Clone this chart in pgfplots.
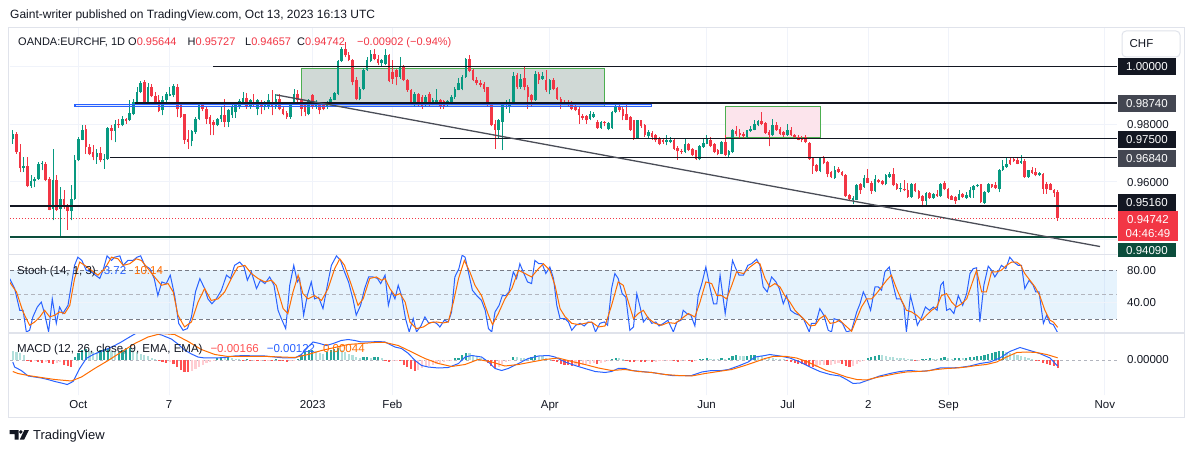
\documentclass[border=0pt]{standalone}
\usepackage{pgfplots}
\pgfplotsset{compat=1.18}
\usepackage{pgfplotstable}
\usepackage{fontspec}
\setmainfont{Liberation Sans}
\definecolor{up}{HTML}{089981}
\definecolor{dn}{HTML}{F23645}
\definecolor{hg}{HTML}{26A69A}
\definecolor{hlg}{HTML}{B2DFDB}
\definecolor{hr}{HTML}{FF5252}
\definecolor{hp}{HTML}{FFCDD2}
\definecolor{tvblue}{HTML}{2962FF}
\definecolor{tvorange}{HTML}{FF6D00}
\definecolor{gridc}{HTML}{F0F3FA}
\definecolor{sepc}{HTML}{E0E3EB}
\definecolor{txt}{HTML}{131722}
\definecolor{dkbox}{HTML}{131722}
\definecolor{gbox}{HTML}{434651}
\definecolor{dkgreen}{HTML}{0B4D3C}
\definecolor{graybox}{HTML}{D0D9D6}
\definecolor{pinkbox}{HTML}{FCE4EC}
\definecolor{grn}{HTML}{4CAF50}
\definecolor{trend}{HTML}{4A4D57}
\definecolor{dashc}{HTML}{787B86}
\definecolor{dashl}{HTML}{B2B5BE}
\definecolor{bandc}{HTML}{2196F3}

\pgfplotstableread{
x o h l c
-18 0.9749 0.9779 0.9733 0.9767
-17 0.9767 0.9773 0.9698 0.9703
-16 0.9703 0.9733 0.9634 0.9648
-15 0.9648 0.9686 0.9634 0.9655
-14 0.9654 0.9686 0.9582 0.9587
-13 0.9587 0.9623 0.9580 0.9603
-12 0.9602 0.9617 0.9582 0.9611
-11 0.9611 0.9669 0.9608 0.9661
-10 0.9661 0.9672 0.9640 0.9666
-9 0.9663 0.9669 0.9603 0.9608
-8 0.9611 0.9617 0.9501 0.9504
-7 0.9507 0.9715 0.9467 0.9605
-6 0.9608 0.9623 0.9499 0.9504
-5 0.9507 0.9582 0.9409 0.9542
-4 0.9542 0.9571 0.9507 0.9513
-3 0.9516 0.9525 0.9434 0.9499
-2 0.9499 0.9588 0.9467 0.9542
-1 0.9542 0.9692 0.9538 0.9675
0 0.9675 0.9756 0.9672 0.9750
1 0.9746 0.9798 0.9744 0.9781
2 0.9782 0.9796 0.9698 0.9721
3 0.9721 0.9730 0.9692 0.9696
4 0.9703 0.9727 0.9675 0.9686
5 0.9686 0.9715 0.9663 0.9701
6 0.9701 0.9721 0.9669 0.9675
7 0.9675 0.9698 0.9646 0.9681
8 0.9678 0.9790 0.9677 0.9788
9 0.9788 0.9796 0.9744 0.9777
10 0.9777 0.9814 0.9738 0.9802
11 0.9802 0.9819 0.9788 0.9796
12 0.9796 0.9827 0.9793 0.9817
13 0.9817 0.9823 0.9802 0.9811
14 0.9814 0.9885 0.9811 0.9839
15 0.9837 0.9889 0.9831 0.9877
16 0.9877 0.9929 0.9871 0.9912
17 0.9912 0.9949 0.9908 0.9944
18 0.9946 0.9955 0.9869 0.9871
19 0.9871 0.9943 0.9869 0.9929
20 0.9929 0.9941 0.9894 0.9898
21 0.9899 0.9912 0.9871 0.9877
22 0.9885 0.9900 0.9842 0.9846
23 0.9848 0.9897 0.9831 0.9883
24 0.9883 0.9912 0.9877 0.9904
25 0.9899 0.9929 0.9897 0.9904
26 0.9900 0.9941 0.9894 0.9933
27 0.9931 0.9941 0.9825 0.9852
28 0.9866 0.9877 0.9823 0.9825
29 0.9834 0.9837 0.9733 0.9746
30 0.9749 0.9779 0.9715 0.9740
31 0.9742 0.9781 0.9723 0.9777
32 0.9773 0.9825 0.9767 0.9819
33 0.9819 0.9877 0.9814 0.9871
34 0.9871 0.9877 0.9846 0.9854
35 0.9854 0.9860 0.9802 0.9819
36 0.9825 0.9831 0.9762 0.9802
37 0.9808 0.9814 0.9762 0.9796
38 0.9796 0.9823 0.9793 0.9819
39 0.9819 0.9860 0.9808 0.9831
40 0.9831 0.9889 0.9790 0.9808
41 0.9808 0.9854 0.9790 0.9851
42 0.9831 0.9866 0.9823 0.9860
43 0.9842 0.9871 0.9823 0.9866
44 0.9860 0.9889 0.9854 0.9881
45 0.9877 0.9912 0.9871 0.9892
46 0.9892 0.9908 0.9854 0.9860
47 0.9860 0.9889 0.9854 0.9883
48 0.9877 0.9904 0.9860 0.9866
49 0.9854 0.9889 0.9831 0.9883
50 0.9874 0.9883 0.9834 0.9860
51 0.9860 0.9881 0.9848 0.9874
52 0.9860 0.9906 0.9854 0.9883
53 0.9877 0.9918 0.9831 0.9860
54 0.9860 0.9906 0.9854 0.9889
55 0.9889 0.9904 0.9848 0.9854
56 0.9854 0.9860 0.9831 0.9837
57 0.9839 0.9846 0.9819 0.9825
58 0.9825 0.9871 0.9819 0.9866
59 0.9877 0.9923 0.9871 0.9906
60 0.9906 0.9918 0.9877 0.9883
61 0.9885 0.9892 0.9827 0.9854
62 0.9866 0.9871 0.9827 0.9842
63 0.9834 0.9889 0.9831 0.9883
64 0.9900 0.9906 0.9854 0.9860
65 0.9860 0.9885 0.9854 0.9877
66 0.9871 0.9877 0.9834 0.9848
67 0.9871 0.9877 0.9848 0.9854
68 0.9860 0.9881 0.9854 0.9874
69 0.9871 0.9894 0.9866 0.9889
70 0.9885 0.9912 0.9883 0.9908
71 0.9906 1.0024 0.9900 1.0019
72 1.0019 1.0068 1.0016 1.0062
73 1.0062 1.0085 1.0033 1.0039
74 1.0039 1.0051 1.0019 1.0024
75 1.0024 1.0027 0.9935 0.9946
76 0.9952 0.9964 0.9883 0.9889
77 0.9889 0.9929 0.9883 0.9923
78 0.9923 0.9996 0.9918 0.9989
79 0.9989 1.0033 0.9985 1.0022
80 1.0019 1.0059 1.0016 1.0045
81 1.0045 1.0062 1.0022 1.0027
82 1.0027 1.0039 1.0004 1.0012
83 1.0012 1.0027 0.9999 1.0022
84 1.0010 1.0062 1.0004 1.0039
85 1.0039 1.0045 0.9946 0.9950
86 0.9981 1.0022 0.9941 0.9958
87 0.9987 0.9993 0.9935 0.9964
88 0.9964 1.0033 0.9958 0.9999
89 0.9999 1.0004 0.9950 0.9955
90 0.9955 0.9958 0.9912 0.9918
91 0.9918 0.9923 0.9866 0.9871
92 0.9866 0.9912 0.9862 0.9906
93 0.9906 0.9908 0.9860 0.9866
94 0.9894 0.9900 0.9854 0.9860
95 0.9866 0.9900 0.9860 0.9894
96 0.9906 0.9912 0.9860 0.9866
97 0.9871 0.9892 0.9866 0.9883
98 0.9871 0.9923 0.9866 0.9883
99 0.9883 0.9889 0.9854 0.9860
100 0.9881 0.9885 0.9854 0.9860
101 0.9866 0.9885 0.9862 0.9881
102 0.9871 0.9900 0.9869 0.9894
103 0.9894 0.9929 0.9889 0.9923
104 0.9920 0.9961 0.9918 0.9943
105 0.9923 0.9970 0.9918 0.9964
106 0.9964 1.0031 0.9962 1.0027
107 1.0027 1.0042 0.9981 0.9985
108 0.9987 0.9993 0.9950 0.9952
109 0.9955 0.9964 0.9935 0.9943
110 0.9944 0.9952 0.9929 0.9937
111 0.9941 0.9946 0.9912 0.9923
112 0.9929 0.9931 0.9862 0.9866
113 0.9871 0.9877 0.9793 0.9796
114 0.9800 0.9814 0.9715 0.9781
115 0.9781 0.9819 0.9750 0.9814
116 0.9808 0.9877 0.9710 0.9871
117 0.9871 0.9883 0.9854 0.9877
118 0.9860 0.9889 0.9839 0.9879
119 0.9877 0.9981 0.9874 0.9966
120 0.9970 0.9978 0.9923 0.9929
121 0.9929 0.9975 0.9923 0.9958
122 0.9962 0.9999 0.9918 0.9929
123 0.9929 0.9935 0.9854 0.9894
124 0.9900 0.9906 0.9860 0.9883
125 0.9883 0.9985 0.9881 0.9975
126 0.9975 0.9981 0.9941 0.9955
127 0.9958 0.9981 0.9955 0.9966
128 0.9955 0.9989 0.9912 0.9918
129 0.9918 0.9958 0.9904 0.9952
130 0.9952 0.9961 0.9918 0.9923
131 0.9926 0.9929 0.9885 0.9889
132 0.9889 0.9894 0.9854 0.9871
133 0.9879 0.9885 0.9866 0.9871
134 0.9877 0.9883 0.9860 0.9866
135 0.9877 0.9881 0.9848 0.9854
136 0.9860 0.9866 0.9846 0.9851
137 0.9854 0.9860 0.9802 0.9831
138 0.9827 0.9834 0.9816 0.9823
139 0.9827 0.9831 0.9802 0.9814
140 0.9819 0.9846 0.9814 0.9834
141 0.9825 0.9842 0.9823 0.9837
142 0.9808 0.9814 0.9785 0.9788
143 0.9788 0.9811 0.9785 0.9808
144 0.9808 0.9811 0.9793 0.9804
145 0.9785 0.9808 0.9779 0.9804
146 0.9788 0.9846 0.9785 0.9842
147 0.9842 0.9877 0.9839 0.9862
148 0.9862 0.9866 0.9842 0.9848
149 0.9854 0.9860 0.9814 0.9827
150 0.9837 0.9866 0.9814 0.9816
151 0.9825 0.9827 0.9777 0.9781
152 0.9814 0.9816 0.9746 0.9750
153 0.9753 0.9816 0.9750 0.9814
154 0.9814 0.9816 0.9788 0.9793
155 0.9796 0.9800 0.9756 0.9762
156 0.9758 0.9781 0.9753 0.9773
157 0.9770 0.9777 0.9746 0.9756
158 0.9762 0.9767 0.9738 0.9744
159 0.9750 0.9756 0.9727 0.9733
160 0.9744 0.9750 0.9733 0.9738
161 0.9738 0.9762 0.9727 0.9744
162 0.9738 0.9756 0.9735 0.9746
163 0.9746 0.9750 0.9712 0.9715
164 0.9719 0.9723 0.9677 0.9706
165 0.9707 0.9715 0.9698 0.9703
166 0.9704 0.9750 0.9700 0.9730
167 0.9730 0.9735 0.9707 0.9710
168 0.9715 0.9719 0.9689 0.9692
169 0.9710 0.9712 0.9677 0.9681
170 0.9681 0.9727 0.9675 0.9723
171 0.9721 0.9750 0.9719 0.9735
172 0.9733 0.9762 0.9730 0.9748
173 0.9746 0.9756 0.9721 0.9723
174 0.9730 0.9735 0.9700 0.9704
175 0.9710 0.9715 0.9692 0.9698
176 0.9698 0.9742 0.9696 0.9737
177 0.9737 0.9762 0.9689 0.9692
178 0.9692 0.9712 0.9686 0.9706
179 0.9704 0.9785 0.9700 0.9779
180 0.9777 0.9793 0.9758 0.9765
181 0.9770 0.9785 0.9753 0.9762
182 0.9765 0.9773 0.9753 0.9758
183 0.9756 0.9781 0.9753 0.9779
184 0.9777 0.9793 0.9773 0.9785
185 0.9781 0.9814 0.9779 0.9800
186 0.9796 0.9816 0.9793 0.9810
187 0.9811 0.9842 0.9796 0.9800
188 0.9804 0.9808 0.9767 0.9770
189 0.9773 0.9779 0.9723 0.9762
190 0.9762 0.9819 0.9758 0.9796
191 0.9796 0.9808 0.9777 0.9779
192 0.9785 0.9790 0.9764 0.9767
193 0.9773 0.9777 0.9756 0.9762
194 0.9762 0.9802 0.9758 0.9781
195 0.9781 0.9790 0.9758 0.9762
196 0.9762 0.9767 0.9752 0.9756
197 0.9756 0.9762 0.9744 0.9746
198 0.9753 0.9758 0.9738 0.9746
199 0.9756 0.9762 0.9735 0.9738
200 0.9735 0.9738 0.9677 0.9681
201 0.9684 0.9686 0.9629 0.9654
202 0.9658 0.9661 0.9634 0.9638
203 0.9638 0.9686 0.9634 0.9684
204 0.9684 0.9689 0.9661 0.9666
205 0.9669 0.9672 0.9617 0.9629
206 0.9634 0.9638 0.9615 0.9617
207 0.9615 0.9654 0.9611 0.9642
208 0.9646 0.9652 0.9631 0.9634
209 0.9634 0.9638 0.9619 0.9623
210 0.9623 0.9626 0.9548 0.9550
211 0.9553 0.9559 0.9536 0.9542
212 0.9538 0.9550 0.9522 0.9545
213 0.9538 0.9592 0.9536 0.9588
214 0.9592 0.9596 0.9559 0.9571
215 0.9582 0.9623 0.9580 0.9615
216 0.9615 0.9646 0.9596 0.9597
217 0.9597 0.9603 0.9559 0.9568
218 0.9568 0.9623 0.9565 0.9611
219 0.9608 0.9611 0.9596 0.9600
220 0.9603 0.9608 0.9588 0.9592
221 0.9592 0.9629 0.9588 0.9623
222 0.9617 0.9634 0.9615 0.9629
223 0.9626 0.9648 0.9585 0.9588
224 0.9592 0.9596 0.9573 0.9577
225 0.9577 0.9596 0.9565 0.9579
226 0.9577 0.9608 0.9568 0.9571
227 0.9571 0.9596 0.9545 0.9548
228 0.9548 0.9596 0.9545 0.9594
229 0.9594 0.9597 0.9565 0.9568
230 0.9568 0.9571 0.9542 0.9545
231 0.9550 0.9553 0.9513 0.9534
232 0.9534 0.9565 0.9521 0.9562
233 0.9562 0.9565 0.9542 0.9545
234 0.9545 0.9562 0.9542 0.9559
235 0.9559 0.9571 0.9548 0.9550
236 0.9550 0.9596 0.9548 0.9594
237 0.9596 0.9602 0.9571 0.9574
238 0.9577 0.9580 0.9542 0.9543
239 0.9550 0.9553 0.9538 0.9539
240 0.9548 0.9550 0.9525 0.9534
241 0.9538 0.9573 0.9536 0.9557
242 0.9557 0.9562 0.9545 0.9548
243 0.9545 0.9565 0.9542 0.9553
244 0.9548 0.9582 0.9545 0.9573
245 0.9571 0.9588 0.9545 0.9585
246 0.9585 0.9594 0.9582 0.9591
247 0.9592 0.9594 0.9528 0.9530
248 0.9527 0.9568 0.9525 0.9565
249 0.9565 0.9597 0.9562 0.9592
250 0.9592 0.9594 0.9580 0.9582
251 0.9588 0.9600 0.9577 0.9579
252 0.9577 0.9646 0.9565 0.9640
253 0.9640 0.9675 0.9638 0.9654
254 0.9652 0.9684 0.9649 0.9663
255 0.9677 0.9684 0.9658 0.9661
256 0.9681 0.9684 0.9669 0.9672
257 0.9675 0.9686 0.9661 0.9663
258 0.9666 0.9692 0.9663 0.9672
259 0.9672 0.9681 0.9615 0.9617
260 0.9617 0.9642 0.9615 0.9640
261 0.9640 0.9652 0.9629 0.9631
262 0.9634 0.9649 0.9619 0.9623
263 0.9623 0.9634 0.9621 0.9631
264 0.9629 0.9631 0.9559 0.9577
265 0.9594 0.9600 0.9559 0.9574
266 0.9592 0.9596 0.9571 0.9573
267 0.9573 0.9577 0.9548 0.9562
268 0.95644 0.95727 0.94657 0.94742
}\candles

\pgfplotstableread{
x v k
-18 0.0018 1
-17 0.0016 1
-16 0.0013 1
-15 0.0009 1
-14 -0.0003 2
-13 -0.0004 2
-12 -0.0003 3
-11 -0.0005 2
-10 -0.0006 2
-9 -0.0004 3
-8 -0.0006 2
-7 -0.0008 2
-6 -0.0006 3
-5 -0.0005 3
-4 -0.0010 2
-3 -0.0013 2
-2 -0.0015 2
-1 0.0006 0
0 0.0014 0
1 0.0020 0
2 0.0022 0
3 0.0018 1
4 0.0016 1
5 0.0015 1
6 0.0019 0
7 0.0021 0
8 0.0022 0
9 0.0018 1
10 0.0015 1
11 0.0016 0
12 0.0020 0
13 0.0023 0
14 0.0024 0
15 0.0019 1
16 0.0016 1
17 0.0012 1
18 0.0010 1
19 0.0007 1
20 0.0004 1
21 0.0002 1
22 -0.0002 2
23 -0.0004 2
24 -0.0006 2
25 -0.0005 3
26 -0.0008 2
27 -0.0014 2
28 -0.0020 2
29 -0.0023 2
30 -0.0024 2
31 -0.0022 3
32 -0.0018 3
33 -0.0014 3
34 -0.0010 3
35 -0.0007 3
36 -0.0004 3
37 -0.0001 3
38 0.0003 0
39 0.0004 0
40 0.0003 1
41 0.0005 0
42 0.0003 1
43 0.0002 1
44 0.0001 1
45 -0.0001 2
46 0.0001 0
47 -0.0002 2
48 -0.0001 3
49 -0.0003 2
50 -0.0002 3
51 -0.0003 2
52 -0.0001 3
53 -0.0002 2
54 0.0001 0
55 -0.0001 2
56 -0.0003 2
57 -0.0004 2
58 -0.0002 3
59 -0.0001 3
60 0.0002 0
61 0.0010 0
62 0.0016 0
63 0.0019 0
64 0.0020 0
65 0.0017 1
66 0.0014 1
67 0.0012 1
68 0.0016 0
69 0.0020 0
70 0.0022 0
71 0.0024 0
72 0.0020 1
73 0.0016 1
74 0.0012 1
75 0.0009 1
76 0.0006 1
77 0.0004 1
78 0.0005 0
79 0.0006 0
80 0.0004 1
81 0.0005 0
82 0.0006 0
83 0.0003 1
84 -0.0002 2
85 -0.0004 2
86 -0.0003 3
87 -0.0002 3
88 -0.0003 2
89 -0.0010 2
90 -0.0015 2
91 -0.0019 2
92 -0.0021 2
93 -0.0020 3
94 -0.0017 3
95 -0.0015 3
96 -0.0013 3
97 -0.0011 3
98 -0.0009 3
99 -0.0007 3
100 -0.0005 3
101 -0.0003 3
102 -0.0001 3
103 0.0003 0
104 0.0004 0
105 0.0010 0
106 0.0014 0
107 0.0013 1
108 0.0010 1
109 0.0007 1
110 0.0004 1
111 0.0001 1
112 -0.0006 2
113 -0.0012 2
114 -0.0016 2
115 -0.0014 3
116 -0.0009 3
117 -0.0005 3
118 -0.0002 3
119 0.0006 0
120 0.0005 1
121 0.0004 1
122 0.0003 1
123 0.0002 1
124 0.0005 0
125 0.0010 0
126 0.0008 1
127 0.0007 1
128 0.0003 1
129 0.0002 1
130 -0.0002 2
131 -0.0005 2
132 -0.0008 2
133 -0.0010 2
134 -0.0011 2
135 -0.0012 2
136 -0.0011 3
137 -0.0012 2
138 -0.0010 3
139 -0.0009 3
140 -0.0008 3
141 -0.0007 3
142 -0.0008 2
143 -0.0006 3
144 -0.0004 3
145 -0.0002 3
146 0.0001 0
147 0.0004 0
148 0.0003 1
149 0.0001 1
150 -0.0002 2
151 -0.0004 2
152 -0.0005 2
153 -0.0003 3
154 -0.0004 2
155 -0.0005 2
156 -0.0003 3
157 -0.0004 2
158 -0.0004 3
159 -0.0003 3
160 -0.0002 3
161 -0.0001 3
162 -0.0001 3
163 -0.0003 2
164 -0.0004 2
165 -0.0003 3
166 -0.0002 3
167 -0.0003 2
168 -0.0004 2
169 -0.0003 3
170 0.0001 0
171 0.0002 0
172 0.0003 0
173 0.0002 1
174 0.0001 1
175 0.0001 1
176 0.0003 0
177 0.0002 1
178 0.0004 0
179 0.0008 0
180 0.0009 0
181 0.0008 1
182 0.0007 1
183 0.0008 0
184 0.0009 0
185 0.0010 0
186 0.0008 1
187 0.0007 1
188 0.0004 1
189 0.0003 1
190 0.0003 1
191 0.0002 1
192 0.0001 1
193 0.0001 1
194 -0.0002 2
195 -0.0004 2
196 -0.0006 2
197 -0.0008 2
198 -0.0009 2
199 -0.0010 2
200 -0.0013 2
201 -0.0015 2
202 -0.0014 3
203 -0.0011 3
204 -0.0010 3
205 -0.0011 2
206 -0.0010 3
207 -0.0008 3
208 -0.0006 3
209 -0.0009 2
210 -0.0013 2
211 -0.0015 2
212 -0.0013 3
213 -0.0008 3
214 -0.0004 3
215 -0.0001 3
216 0.0003 0
217 0.0006 0
218 0.0008 0
219 0.0010 0
220 0.0009 1
221 0.0007 1
222 0.0006 1
223 0.0005 1
224 0.0004 1
225 0.0003 1
226 0.0003 1
227 0.0002 1
228 0.0002 1
229 -0.0001 2
230 -0.0001 3
231 0.0001 0
232 0.0002 0
233 0.0003 0
234 0.0002 1
235 0.0002 1
236 0.0004 0
237 0.0005 0
238 0.0003 1
239 0.0002 1
240 0.0003 0
241 0.0004 0
242 0.0003 1
243 0.0004 0
244 0.0005 0
245 0.0006 0
246 0.0007 0
247 0.0008 0
248 0.0009 0
249 0.0011 0
250 0.0013 0
251 0.0015 0
252 0.0017 0
253 0.0018 0
254 0.0016 1
255 0.0014 1
256 0.0012 1
257 0.0010 1
258 0.0008 1
259 0.0005 1
260 0.0003 1
261 0.0001 1
262 -0.0001 2
263 -0.0003 2
264 -0.0006 2
265 -0.0009 2
266 -0.0011 2
267 -0.0013 2
268 -0.00166 2
}\hist

\pgfplotsset{
  tvax/.style={scale only axis, width=1107pt,
    xmin=-18.77, xmax=284.24,
    axis line style={draw=none}, tick style={draw=none}, major tick length=0pt,
    xtick={-0.07,24.8,64.1,85.9,129.0,171.9,194.1,216.2,238.1,280.9},
    xmajorgrids, major grid style={draw=gridc, line width=1pt},
    xticklabels={}, yticklabels={}, clip=true},
  wick/.style={only marks, mark=none, mark size=0pt, mark options={draw=none, fill=none}, forget plot,
    error bars/y dir=plus, error bars/y explicit, error bars/error mark=none,
    error bars/error bar style={draw=#1, line width=0.9pt, solid}},
  body/.style={only marks, mark=none, mark size=0pt, mark options={draw=none, fill=none}, forget plot,
    error bars/y dir=plus, error bars/y explicit, error bars/error mark=none,
    error bars/error bar style={draw=#1, line width=2.6pt, solid}},
}
\newcommand{\lf}{\fontsize{11.5}{13}\selectfont}
\newcommand{\gf}{\fontsize{11}{13}\selectfont}
\newcommand{\plab}[3]{\fill[#1] (1118pt,{#2pt-8.5pt}) rectangle (1176pt,{#2pt+8.5pt});
  \node[text=white, font=\lf, inner sep=0pt] at (1147pt,#2pt) {#3};}

\begin{document}
\begin{tikzpicture}
\fill[white] (0pt,0pt) rectangle (1195pt,453pt);

% ---------- price pane ----------
\begin{axis}[tvax, anchor=south west, at={(10pt,199pt)}, height=226pt, ymin=0.9350, ymax=1.0134,
  ytick={0.94,0.96,0.98,1.00}, ymajorgrids]
\fill[graybox] (axis cs:61.1,0.98613) rectangle (axis cs:143.9,0.99931);
\draw[grn, line width=1pt] (axis cs:61.1,0.98613) rectangle (axis cs:143.9,0.99931);
\fill[pinkbox] (axis cs:177.0,0.97552) rectangle (axis cs:203.1,0.98627);
\draw[grn, line width=1pt] (axis cs:177.0,0.97552) rectangle (axis cs:203.1,0.98627);

\addplot[restrict expr to domain={\thisrow{c}-\thisrow{o}}{0:1}, wick=up]
  table[x=x, y=l, y error expr=\thisrow{h}-\thisrow{l}] {\candles};
\addplot[restrict expr to domain={\thisrow{c}-\thisrow{o}}{0:1}, body=up]
  table[x=x, y=o, y error expr=\thisrow{c}-\thisrow{o}] {\candles};
\addplot[restrict expr to domain={\thisrow{c}-\thisrow{o}}{-1:-0.000001}, wick=dn]
  table[x=x, y=l, y error expr=\thisrow{h}-\thisrow{l}] {\candles};
\addplot[restrict expr to domain={\thisrow{c}-\thisrow{o}}{-1:-0.000001}, body=dn]
  table[x=x, y=c, y error expr=\thisrow{o}-\thisrow{c}] {\candles};

\draw[txt, line width=1.4pt] (axis cs:36.8,1.0) -- (axis cs:284.24,1.0);
\draw[txt, line width=1.4pt] (axis cs:15.4,0.9874) -- (axis cs:284.24,0.9874);
\draw[tvblue, line width=1.1pt, fill=tvblue, fill opacity=0.12] (axis cs:-0.98,0.9863) rectangle (axis cs:156.9,0.9870);
\draw[txt, line width=1.4pt] (axis cs:98.9,0.975) -- (axis cs:284.24,0.975);
\draw[txt, line width=1.4pt] (axis cs:8.6,0.9684) -- (axis cs:284.24,0.9684);
\draw[txt, line width=1.4pt] (axis cs:-18.77,0.9516) -- (axis cs:284.24,0.9516);
\draw[dkgreen, line width=1.5pt] (axis cs:-18.77,0.9409) -- (axis cs:284.24,0.9409);
\draw[dn, line width=0.9pt, dash pattern=on 1pt off 2pt] (axis cs:-18.77,0.94742) -- (axis cs:284.24,0.94742);
\draw[trend, line width=1.3pt] (axis cs:54.1,0.99019) -- (axis cs:279.6,0.93759);
\end{axis}

% ---------- stochastic pane ----------
\begin{axis}[tvax, anchor=south west, at={(10pt,120pt)}, height=79pt, ymin=3.2, ymax=99.9, ytick=\empty]
\fill[bandc, fill opacity=0.11] (axis cs:-18.77,20) rectangle (axis cs:284.24,80);
\draw[gridc, line width=1pt] (axis cs:-18.77,40) -- (axis cs:284.24,40);
\draw[dashc, line width=1pt, dash pattern=on 4pt off 3pt] (axis cs:-18.77,80) -- (axis cs:284.24,80);
\draw[dashl, line width=1pt, dash pattern=on 4pt off 3pt] (axis cs:-18.77,50) -- (axis cs:284.24,50);
\draw[dashc, line width=1pt, dash pattern=on 4pt off 3pt] (axis cs:-18.77,20) -- (axis cs:284.24,20);
\addplot[tvblue, line width=1pt] coordinates {
(-18.85,69.8) (-17.5,57.6) (-16.1,31) (-15.2,31) (-14.3,4.5) (-13.4,6.5) (-12.5,22.9) (-11.3,35) (-10.2,41) (-9.3,27) (-8.2,4.5) (-7.2,45) (-6.1,15) (-5.2,35) (-4.3,27) (-2.9,37) (-2.0,61.6) (-1.1,86) (-0.2,96) (0.9,92) (2.1,80) (3.5,78) (4.6,74) (5.8,70) (6.7,80) (7.8,97.6) (9.0,92) (9.9,96) (11.3,97.6) (12.2,86) (13.5,92) (14.9,92) (16.0,96) (17.0,97.6) (18.1,86) (19.5,82) (20.7,70) (21.7,49) (22.8,65.7) (24.0,63.7) (25.1,74) (26.3,49) (27.4,15) (28.6,6.5) (29.8,8.6) (30.9,22.9) (32.0,53.5) (33.2,69.8) (34.5,57.6) (35.4,45) (36.5,39) (37.7,45) (39.1,55.5) (40.5,74) (41.6,70) (42.7,86) (44.1,90) (45.3,84) (46.2,67.8) (47.3,78) (48.7,57.6) (49.8,67.8) (51.0,63.7) (52.3,71.8) (53.5,61.6) (54.6,31) (55.5,20.8) (56.7,8.6) (57.8,61.6) (58.9,86) (59.9,65.7) (60.5,70) (61.6,25) (62.6,49) (63.7,65.7) (64.6,45) (65.7,47) (66.9,33) (68.1,61.6) (69.2,86) (70.6,97.6) (71.7,92) (72.8,78) (73.9,65.7) (75.1,45) (76.0,25) (77.2,37) (78.3,57.6) (79.4,71.8) (80.6,71.8) (81.8,70) (82.7,63.7) (83.9,74) (84.8,37) (85.7,53.5) (86.6,45) (87.5,61.6) (88.4,49) (89.5,20.8) (90.5,4.5) (91.6,20.8) (92.5,4.5) (93.7,11.8) (94.8,22.9) (95.9,15) (97.1,16.7) (98.0,15) (98.9,10.6) (100.1,18.8) (101.2,16.7) (102.1,29) (103.0,71.8) (104.1,82) (105.0,98.4) (105.8,96) (106.7,78) (107.8,55.5) (109.0,49) (110.3,43) (111.3,31) (112.2,8.6) (113.1,4.5) (114.0,29) (115.1,37) (116.0,49) (116.9,49) (117.8,53.5) (119.0,78) (119.9,70) (120.8,88) (121.7,78) (122.9,65.7) (124.0,63.7) (124.9,92) (126.0,88) (126.9,88) (127.9,76) (129.0,84) (130.0,70) (130.9,37) (131.8,20.8) (133.1,20.8) (134.1,16.7) (135.0,6.5) (136.1,12.7) (137.3,15) (138.4,11.8) (139.5,16.7) (140.6,15.9) (141.5,4.5) (142.7,15) (143.9,16.7) (144.8,12.7) (145.9,57.6) (146.8,76) (147.7,70) (148.8,51.4) (149.8,47) (150.9,6.5) (151.9,10.6) (152.8,51.4) (153.7,35) (154.6,16.7) (155.8,22.9) (156.9,15) (158.0,16.7) (158.9,11.8) (160.1,15) (161.3,18.8) (162.8,4.5) (163.8,16.7) (164.9,18.8) (165.5,31) (166.5,27) (167.6,25) (168.7,11.8) (169.6,49) (170.6,63.7) (171.7,84) (172.8,59.6) (173.8,39) (174.7,39) (175.6,74) (177.0,27) (177.9,55.5) (179.0,92) (179.9,82) (180.8,74) (182.0,74) (183.2,86) (184.2,88) (185.6,93.5) (186.5,86) (187.4,59.6) (188.5,53.5) (189.7,71.8) (190.9,65.7) (191.8,57.6) (192.9,39) (193.8,49) (194.9,31) (196.1,27) (197.3,25) (198.4,20.8) (200.0,4.5) (200.6,15) (201.8,15) (202.9,33) (204.0,25) (205.2,6.5) (206.1,4.5) (206.8,20.8) (207.9,18.8) (209.1,15) (210.2,4.5) (211.6,6.5) (213.0,29) (213.9,39) (214.8,53.5) (215.9,43) (216.8,31) (218.0,59.6) (218.9,59.6) (219.8,55.5) (220.7,78) (221.9,84) (223.0,61.6) (223.9,45) (225.0,45) (225.9,37) (226.6,4.5) (227.7,49) (228.7,31) (229.6,12.7) (230.8,22.9) (231.8,35) (232.9,31) (234.0,35) (235.0,31) (236.0,61.6) (236.7,65.7) (237.6,31) (238.5,33) (239.6,27) (240.8,49) (242.0,37) (243.1,51.4) (244.0,76) (244.9,82) (245.8,83) (246.7,16.7) (247.8,61.6) (249.0,85) (249.9,80) (250.8,71.8) (251.7,78) (252.6,86) (253.8,82) (254.9,96) (256.0,90) (257.2,86) (258.1,86) (259.0,57.6) (260.2,67.8) (261.3,61.6) (262.0,53.5) (262.9,53.5) (264.1,15) (265.0,25) (265.9,15) (266.8,13.5) (268,3.72)};
\addplot[tvorange, line width=1pt] coordinates {
(-18.9,65.7) (-17.0,53.5) (-15.2,29) (-13.4,12.7) (-12.0,16.7) (-10.6,22.9) (-9.3,31) (-7.9,22.9) (-6.5,25) (-5.2,29) (-3.8,27) (-2.4,37) (-1.1,69.8) (0.3,90) (1.7,86) (3.5,80) (5.3,74) (7.2,82) (9.0,96) (10.8,94) (12.2,86) (14.0,88) (15.8,94) (17.2,92) (19.0,82) (20.8,71.8) (22.7,61.6) (24.5,63.7) (25.9,53.5) (27.2,25) (29.0,10.6) (30.9,16.7) (32.7,41) (34.5,57.6) (36.3,43) (38.2,45) (40.0,53.5) (41.8,69.8) (43.6,84) (45.5,86) (47.3,76) (49.1,70) (51.0,65.7) (52.8,67.8) (54.1,61.6) (56.0,33) (57.3,27) (58.7,53.5) (60.1,74) (61.4,51.4) (62.8,45) (64.6,49) (66.5,43) (68.3,57.6) (70.1,82) (71.5,94) (72.8,86) (74.7,61.6) (76.5,37) (77.9,45) (79.7,70) (81.5,71.8) (82.9,67.8) (83.9,69.8) (85.2,57.6) (86.6,49) (88.0,51.4) (89.4,41) (90.7,16.7) (92.5,8.6) (94.4,10.6) (96.2,15.9) (98.0,16.7) (99.8,15.5) (101.2,16.7) (102.6,41) (104.0,69.8) (105.6,92) (107.1,78) (108.5,61.6) (110.3,49) (112.2,25) (113.3,13.5) (114.9,27) (116.7,45) (118.6,57.6) (120.4,80) (122.2,76) (124.0,71.8) (125.9,82) (127.2,88) (129.0,80) (130.4,61.6) (131.8,33) (133.2,22.9) (135.0,15) (136.8,13.5) (138.6,15) (140.4,16.7) (142.3,10.6) (144.1,11.8) (145.9,37) (147.7,65.7) (149.1,61.6) (150.5,41) (151.9,20.8) (153.2,27) (154.6,31) (156.0,20.8) (157.8,15) (159.6,12.7) (161.4,15.9) (163.3,15) (165.1,20.8) (166.9,27) (168.7,22.9) (170.1,41) (171.7,65.7) (173.3,63.7) (174.7,49) (176.0,49) (177.4,45) (178.8,61.6) (180.1,78) (182.0,76) (183.8,84) (185.6,90) (186.5,88) (187.9,69.8) (189.2,59.6) (190.6,63.7) (192.0,59.6) (193.3,49) (194.7,41) (196.1,31) (197.4,25) (198.8,18.8) (200.2,11.8) (201.6,12.7) (202.9,20.8) (204.3,25) (205.7,15) (207.0,15.9) (208.4,18.8) (209.8,12.7) (211.6,5.3) (213.0,20.8) (214.3,35) (215.7,45) (217.1,45) (218.4,51.4) (219.8,59.6) (221.2,67.8) (222.5,74) (223.9,57.6) (225.3,43) (226.6,31) (228.0,29) (229.4,25) (230.8,18.8) (232.1,25) (233.5,31) (234.9,35) (236.2,49) (237.6,51.4) (239.0,41) (240.3,35) (241.7,39) (243.1,45) (244.4,61.6) (245.8,80) (247.2,53.5) (248.5,53.5) (249.9,78) (251.3,78) (252.6,80) (254.0,86) (255.4,90) (256.8,90) (257.9,86) (259.0,76) (260.4,67.8) (261.8,59.6) (263.1,49) (264.5,31) (265.9,18.8) (266.8,16.7) (268,10.14)};
\end{axis}

% ---------- MACD pane ----------
\begin{axis}[tvax, anchor=south west, at={(10pt,58pt)}, height=62pt, ymin=-0.007, ymax=0.0054, ytick=\empty,
  xticklabels={Oct,7,2023,Feb,Apr,Jun,Jul,2,Sep,Nov},
  xticklabel style={font=\lf, text=txt, anchor=base, yshift=-13.3pt}]
\draw[dashl, line width=0.9pt, dash pattern=on 3pt off 3pt] (axis cs:-18.77,0) -- (axis cs:284.24,0);
\addplot[ycomb, draw=hg, line width=2.2pt, restrict expr to domain={\thisrow{k}}{-0.5:0.5}] table[x=x,y=v] {\hist};
\addplot[ycomb, draw=hlg, line width=2.2pt, restrict expr to domain={\thisrow{k}}{0.5:1.5}] table[x=x,y=v] {\hist};
\addplot[ycomb, draw=hr, line width=2.2pt, restrict expr to domain={\thisrow{k}}{1.5:2.5}] table[x=x,y=v] {\hist};
\addplot[ycomb, draw=hp, line width=2.2pt, restrict expr to domain={\thisrow{k}}{2.5:3.5}] table[x=x,y=v] {\hist};
\addplot[tvblue, line width=1pt] coordinates {
(-18,-0.0004) (-17.5,-0.0014) (-15.7,-0.0021) (-13.8,-0.0032) (-12,-0.0034) (-10.2,-0.0036) (-8.4,-0.0039) (-6.5,-0.0043) (-4.7,-0.0046) (-3.1,-0.0049) (-1.5,-0.0043) (0.3,-0.0017) (2.1,0.0003) (4,0.0011) (5.8,0.0016) (8.1,0.0023) (9.9,0.0029) (11.7,0.0036) (13.5,0.0044) (15.4,0.0052) (17.2,0.0058) (19.9,0.0055) (22.7,0.0050) (25.4,0.0042) (27.2,0.0032) (29,0.0020) (30.9,0.0012) (32.7,0.0006) (34.5,0.0004) (37.3,0.0004) (40,0.0005) (42.7,0.0008) (45.5,0.0009) (48.2,0.0008) (51,0.0008) (53.7,0.0006) (56.4,0.0004) (59.2,0.0004) (61,0.0011) (62.8,0.0026) (64.2,0.0036) (66,0.0033) (67.8,0.0029) (69.7,0.0033) (71.9,0.0039) (73.8,0.0041) (75.6,0.0039) (77.4,0.0036) (79.7,0.0036) (82,0.0037) (83.9,0.0036) (86.6,0.0026) (88.4,0.0023) (90.3,0.0013) (92.1,-0.0001) (93.9,-0.0011) (95.7,-0.0014) (98.5,-0.0016) (101.2,-0.0015) (104,-0.0007) (105.8,0.0006) (107.6,0.0009) (110.3,0.0006) (112.2,-0.0004) (114,-0.0017) (115.8,-0.0021) (117.6,-0.0017) (120.4,-0.0007) (123.1,0.0003) (125.9,0.0008) (128.6,0.0009) (130.4,0.0006) (133.2,-0.0004) (135.9,-0.0011) (138.6,-0.0017) (141.4,-0.0023) (144.1,-0.0025) (145.9,-0.0023) (147.7,-0.0017) (149.6,-0.0017) (151.4,-0.0021) (154.1,-0.0023) (156.9,-0.0025) (159.6,-0.0028) (162.4,-0.0031) (165.1,-0.0031) (167.8,-0.0031) (170.6,-0.0024) (173.3,-0.0021) (176,-0.0021) (177.9,-0.0019) (180.6,-0.0012) (183.3,-0.0004) (185.2,0.0006) (187.9,0.0009) (189.2,0.0011) (192,0.0008) (194.7,0.0004) (197.5,-0.0004) (200.2,-0.0014) (202.9,-0.0023) (205.7,-0.0029) (208.4,-0.0032) (210.2,-0.0039) (212,-0.0047) (213.9,-0.0046) (216.6,-0.0039) (219.3,-0.0032) (222.1,-0.0027) (224.8,-0.0023) (227.6,-0.0021) (230.3,-0.0023) (233,-0.0021) (235.8,-0.0016) (238.5,-0.0016) (241.2,-0.0015) (244,-0.0012) (246.7,-0.0007) (249.5,-0.0004) (252.2,0.0004) (254.9,0.0017) (257.7,0.0025) (260.4,0.0019) (263.1,0.0013) (265.9,0.0004) (268,-0.00122)};
\addplot[tvorange, line width=1pt] coordinates {
(-18,-0.0023) (-16.6,-0.0027) (-13.8,-0.0031) (-10.2,-0.0035) (-6.5,-0.0039) (-2,-0.0042) (0.8,-0.0034) (4.4,-0.0017) (8.1,-0.0001) (11.7,0.0016) (15.4,0.0033) (19,0.0046) (22.7,0.0053) (26.3,0.0051) (30,0.0037) (33.6,0.0021) (37.3,0.0011) (40.9,0.0007) (44.6,0.0007) (48.2,0.0007) (51.9,0.0007) (55.5,0.0006) (59.2,0.0005) (62.8,0.0011) (66.5,0.0019) (70.1,0.0025) (73.8,0.0031) (77.4,0.0033) (81,0.0035) (83.9,0.0035) (87.5,0.0029) (91.2,0.0016) (94.8,0.0003) (98.5,-0.0007) (102.1,-0.0013) (105.8,-0.0009) (109.4,0.0001) (113.1,-0.0004) (116.7,-0.0012) (120.4,-0.0009) (124,-0.0004) (127.7,0.0001) (131.3,0.0004) (135,-0.0003) (138.6,-0.0009) (142.3,-0.0016) (145.9,-0.0021) (149.6,-0.0019) (153.2,-0.0023) (156.9,-0.0025) (160.5,-0.0029) (164.2,-0.0031) (167.8,-0.0032) (171.5,-0.0027) (175.1,-0.0023) (178.8,-0.0019) (182.4,-0.0011) (185.2,-0.0004) (187.9,0.0003) (190.1,0.0007) (193.8,0.0007) (196.5,0.0004) (199.3,-0.0003) (202,-0.0012) (204.7,-0.0021) (207.5,-0.0027) (210.2,-0.0034) (213,-0.0039) (215.7,-0.0040) (218.4,-0.0035) (221.2,-0.0031) (223.9,-0.0027) (226.6,-0.0024) (229.4,-0.0023) (232.1,-0.0022) (234.9,-0.0019) (237.6,-0.0017) (240.3,-0.0016) (243.1,-0.0014) (245.8,-0.0011) (248.5,-0.0009) (251.3,-0.0004) (254,0.0006) (256.8,0.0015) (259.5,0.0016) (262.2,0.0015) (265,0.0011) (268,0.00044)};
\end{axis}

% ---------- separators & frame ----------
\draw[sepc, line width=1.5pt] (9pt,198.5pt) -- (1117pt,198.5pt);
\draw[sepc, line width=1.5pt] (9pt,120pt) -- (1184pt,120pt);
\draw[sepc, line width=1.5pt] (8.5pt,35.5pt) rectangle (1184.5pt,425.5pt);

% ---------- right price scale ----------
\plab{dkbox}{386.3}{1.00000}
\plab{gbox}{349.3}{0.98740}
\node[text=txt, font=\lf, anchor=west, inner sep=0pt] at (1127pt,328pt) {0.98000};
\plab{dkbox}{313.7}{0.97500}
\plab{gbox}{294.7}{0.96840}
\node[text=txt, font=\lf, anchor=west, inner sep=0pt] at (1127pt,270.3pt) {0.96000};
\plab{dkbox}{250.7}{0.95160}
\fill[dn] (1118pt,212pt) rectangle (1178pt,242pt);
\node[text=white, font=\lf, inner sep=0pt] at (1148pt,233.6pt) {0.94742};
\node[text=white, font=\lf, inner sep=0pt] at (1148pt,219.6pt) {04:46:49};
\fill[dkgreen] (1118pt,195.5pt) rectangle (1176pt,209.5pt);
\node[text=white, font=\lf, inner sep=0pt] at (1147pt,202.3pt) {0.94090};
\node[text=txt, font=\lf, anchor=west, inner sep=0pt] at (1127pt,182.7pt) {80.00};
\node[text=txt, font=\lf, anchor=west, inner sep=0pt] at (1127pt,150.1pt) {40.00};
\node[text=txt, font=\lf, anchor=west, inner sep=0pt] at (1127pt,93.3pt) {0.00000};
\draw[sepc, line width=1pt, rounded corners=4pt] (1122pt,396pt) rectangle (1180pt,422pt);
\node[text=txt, font=\lf, inner sep=0pt] at (1141.5pt,409pt) {CHF};

% ---------- texts ----------
\node[text=txt, font=\fontsize{12}{14}\selectfont, anchor=base west, inner sep=0pt] at (10pt,434pt) {Gaint-writer published on TradingView.com, Oct 13, 2023 16:13 UTC};
\node[text=txt, font=\gf, anchor=base west, inner sep=0pt] at (18pt,407.5pt) {OANDA:EURCHF, 1D};
\node[text=txt, font=\gf, anchor=base west, inner sep=0pt] at (128pt,407.5pt) {O\textcolor{dn}{0.95644}};
\node[text=txt, font=\gf, anchor=base west, inner sep=0pt] at (187.5pt,407.5pt) {H\textcolor{dn}{0.95727}};
\node[text=txt, font=\gf, anchor=base west, inner sep=0pt] at (245pt,407.5pt) {L\textcolor{dn}{0.94657}};
\node[text=txt, font=\gf, anchor=base west, inner sep=0pt] at (297pt,407.5pt) {C\textcolor{dn}{0.94742}};
\node[text=dn, font=\gf, anchor=base west, inner sep=0pt] at (357pt,407.5pt) {−0.00902 (−0.94\%)};
\node[text=txt, font=\lf, anchor=base west, inner sep=0pt] at (17pt,178.3pt) {Stoch (14, 1, 3)\hspace{8pt}\textcolor{tvblue}{3.72}\hspace{8pt}\textcolor{tvorange}{10.14}};
\node[text=txt, font=\lf, anchor=base west, inner sep=0pt] at (17pt,100.3pt) {MACD (12, 26, close, 9, EMA, EMA)\hspace{8pt}\textcolor{hr}{−0.00166}\hspace{8pt}\textcolor{tvblue}{−0.00122}\hspace{8pt}\textcolor{tvorange}{0.00044}};

% ---------- TradingView logo ----------
\fill[txt] (9.6pt,23pt) -- (18.6pt,23pt) -- (18.6pt,13.5pt) -- (14.6pt,13.5pt) -- (14.6pt,19pt) -- (9.6pt,19pt) -- cycle;
\fill[txt] (20.8pt,21.1pt) circle (1.9pt);
\fill[txt] (24.4pt,23pt) -- (28.9pt,23pt) -- (24.2pt,13.5pt) -- (19.8pt,13.5pt) -- cycle;
\node[text=txt, font=\fontsize{13}{15}\selectfont, anchor=base west, inner sep=0pt] at (33pt,13.5pt) {TradingView};
\end{tikzpicture}
\end{document}
